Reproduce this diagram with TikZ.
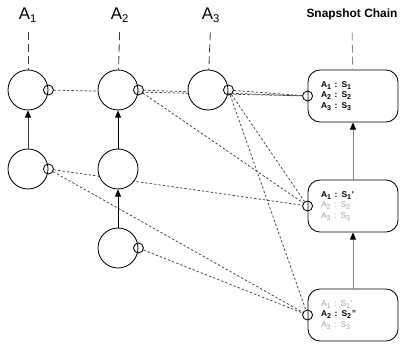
\documentclass[tikz,border=0pt]{standalone}
\usepackage{fontspec}
\setmainfont{Liberation Sans}
\usepackage{tikz}
\usetikzlibrary{arrows.meta, backgrounds}
\definecolor{linkgray}{RGB}{70,70,70}
\definecolor{fadegray}{RGB}{165,165,165}
\definecolor{chaingray}{RGB}{135,135,135}
\definecolor{guidegray}{RGB}{60,60,60}

\newcommand{\kv}[2]{A\textsubscript{#1} : S\textsubscript{#2}}

\tikzset{
  state/.style={circle, draw, fill=white, minimum size=10mm, inner sep=0pt, line width=0.6pt},
  port/.style={circle, draw, minimum size=2.5mm, inner sep=0pt, line width=0.6pt},
  snap/.style={rectangle, rounded corners=3mm, draw, fill=white, minimum width=22.5mm,
    minimum height=13mm, line width=0.6pt, align=left, text width=16mm,
    font=\fontsize{6}{7.6}\selectfont},
  link/.style={linkgray, line width=0.55pt, dash pattern=on 0.6mm off 0.5mm},
  upline/.style={line width=0.6pt, -{Triangle[length=1.8mm, width=1.5mm, color=black]}},
  guide/.style={line width=0.6pt, dash pattern=on 2mm off 1mm},
  head/.style={font=\fontsize{12}{14}\selectfont},
}

\begin{document}
\begin{tikzpicture}[x=0.25mm, y=-0.25mm]
  \useasboundingbox (0,0) rectangle (400,346);

  % Kopfzeilen der Spalten
  \node[head] (h1) at (28,15) {A\textsubscript{1}};
  \node[head] (h2) at (120,15) {A\textsubscript{2}};
  \node[head] (h3) at (211,15) {A\textsubscript{3}};
  \node[font=\bfseries\fontsize{8.5}{10}\selectfont] (hs) at (352,14) {Snapshot Chain};

  % Zustaende der Akteure
  \node[state] (a1s1) at (28,90) {};
  \node[state] (a1s2) at (28,169) {};
  \node[state] (a2s1) at (118,90) {};
  \node[state] (a2s2) at (118,169) {};
  \node[state] (a2s3) at (118,248) {};
  \node[state] (a3s1) at (208,90) {};

  \foreach \s in {a1s1, a1s2, a2s1, a2s3, a3s1}
    \node[port] (p-\s) at (\s.east) {};

  % Snapshot-Kette
  \node[snap] (c1) at (353,96) {\bfseries \kv{1}{1}\\ \kv{2}{2}\\ \kv{3}{3}};
  \node[snap] (c2) at (353,206) {\textbf{\kv{1}{1}\textquotesingle}\\
    \textcolor{fadegray}{\kv{2}{2}}\\ \textcolor{fadegray}{\kv{3}{3}}};
  \node[snap] (c3) at (353,315) {\textcolor{fadegray}{\kv{1}{1}\textquotesingle}\\
    \textbf{\kv{2}{2}"}\\ \textcolor{fadegray}{\kv{3}{3}}};

  \foreach \c in {c1, c2, c3}
    \node[port] (p-\c) at (\c.west) {};

  % gestrichelte Linien zu den Koepfen
  \draw[guide, guidegray, shorten <=1.3mm] (h1) -- (a1s1);
  \draw[guide, guidegray, shorten <=1.3mm] (h2) -- (a2s1);
  \draw[guide, guidegray, shorten <=1.3mm] (h3) -- (a3s1);
  \draw[guide, chaingray, shorten <=2mm] (hs) -- (c1);

  % Nachfolger
  \draw[upline, guidegray] (a1s2) -- (a1s1);
  \draw[upline] (a2s2) -- (a2s1);
  \draw[upline] (a2s3) -- (a2s2);
  \draw[upline, chaingray] (c2) -- (c1);
  \draw[upline, chaingray] (c3) -- (c2);

  % Verweise von den Zustaenden auf die Snapshots
  \begin{scope}[on background layer]
    \foreach \from/\to in {a1s1/c1, a2s1/c1, a3s1/c1, a1s2/c2, a2s1/c2, a3s1/c2,
                           a1s2/c3, a2s3/c3, a3s1/c3}
      \draw[link] (p-\from) -- (p-\to);
  \end{scope}
\end{tikzpicture}
\end{document}
